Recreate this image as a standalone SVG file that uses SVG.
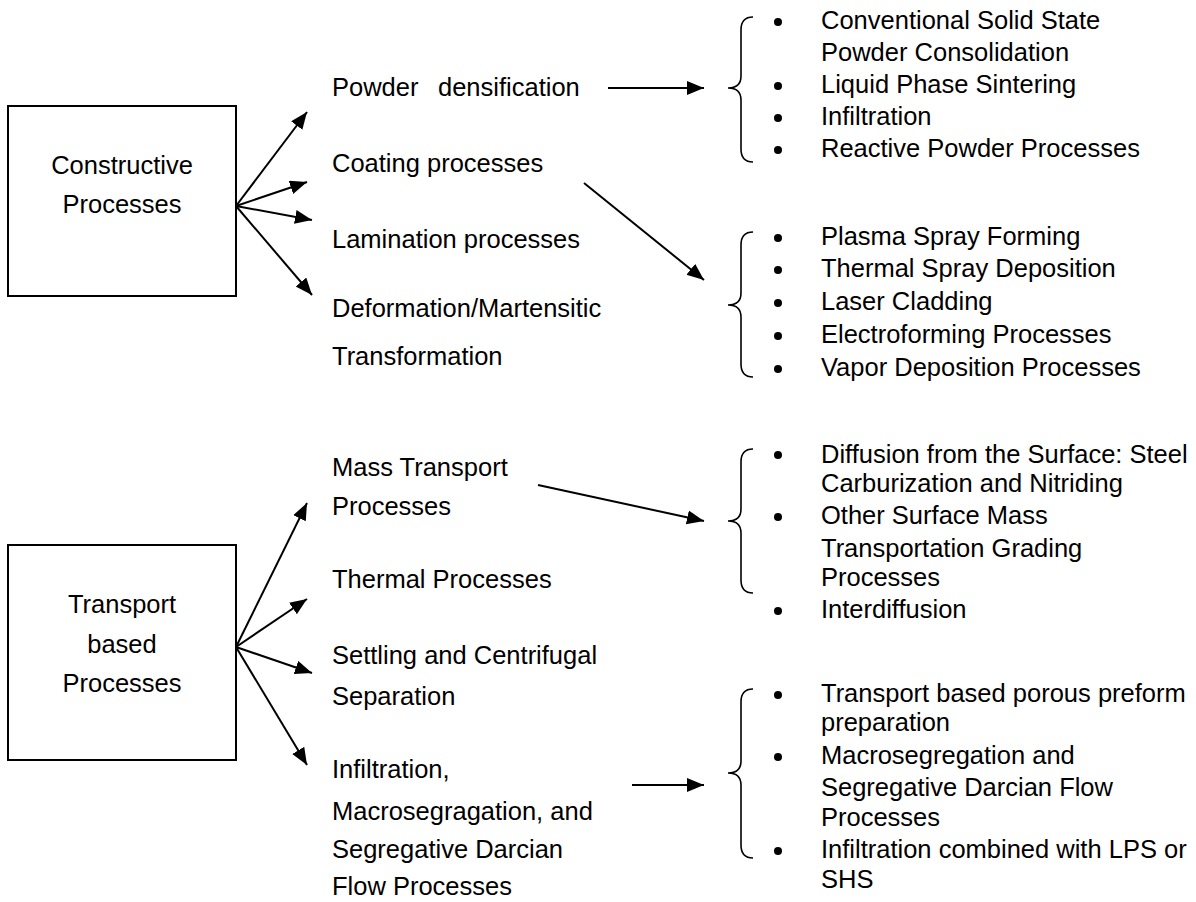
<svg xmlns="http://www.w3.org/2000/svg" width="1196" height="902" viewBox="0 0 1196 902">
<style>
text{font-family:"Liberation Sans",Arial,sans-serif;font-size:25.5px;fill:#000}
.box{fill:#fff;stroke:#000;stroke-width:2}
.ln{stroke:#000;stroke-width:2;fill:none;marker-end:url(#ah)}
.br{stroke:#000;stroke-width:1.6;fill:none}
.c{text-anchor:middle}
</style>
<defs>
<marker id="ah" markerUnits="userSpaceOnUse" markerWidth="18" markerHeight="15" refX="17" refY="7" orient="auto">
<path d="M0,0 L17,7 L0,14 z" fill="#000"/>
</marker>
</defs>
<rect width="1196" height="902" fill="#fff"/>

<g id="constructive">
<rect class="box" x="8" y="106" width="228" height="190"/>
<text class="c" x="122" y="174">Constructive</text>
<text class="c" x="122" y="213">Processes</text>
</g>

<g id="transport">
<rect class="box" x="8" y="545" width="228" height="215"/>
<text class="c" x="122" y="613">Transport</text>
<text class="c" x="122" y="653">based</text>
<text class="c" x="122" y="692">Processes</text>
</g>

<g id="powder-densification"><text x="332" y="96">Powder</text><text x="438" y="96">densification</text></g>
<g id="coating"><text x="332" y="172">Coating processes</text></g>
<g id="lamination"><text x="332" y="248">Lamination processes</text></g>
<g id="deformation"><text x="332" y="317">Deformation/Martensitic</text><text x="332" y="365">Transformation</text></g>

<g id="mass-transport"><text x="332" y="476">Mass Transport</text><text x="332" y="515">Processes</text></g>
<g id="thermal"><text x="332" y="588">Thermal Processes</text></g>
<g id="settling"><text x="332" y="664">Settling and Centrifugal</text><text x="332" y="705">Separation</text></g>
<g id="infiltration"><text x="332" y="778">Infiltration,</text><text x="332" y="820">Macrosegragation, and</text><text x="332" y="858">Segregative Darcian</text><text x="332" y="895">Flow Processes</text></g>

<g id="list-powder">
<path class="br" d="M753,17 C746,17 741,21 741,30 L741,76 C741,84 736,88 728,88 C736,88 741,92 741,100 L741,149 C741,158 746,162 753,162"/>
<circle cx="778" cy="22" r="4"/><circle cx="778" cy="86" r="4"/><circle cx="778" cy="118" r="4"/><circle cx="778" cy="150" r="4"/>
<text x="821" y="29">Conventional Solid State</text>
<text x="821" y="61">Powder Consolidation</text>
<text x="821" y="93">Liquid Phase Sintering</text>
<text x="821" y="125">Infiltration</text>
<text x="821" y="157">Reactive Powder Processes</text>
</g>

<g id="list-coating">
<path class="br" d="M753,232 C746,232 741,236 741,245 L741,293 C741,301 736,305 728,305 C736,305 741,309 741,317 L741,364 C741,373 746,377 753,377"/>
<circle cx="778" cy="238" r="4"/><circle cx="778" cy="270" r="4"/><circle cx="778" cy="303" r="4"/><circle cx="778" cy="336" r="4"/><circle cx="778" cy="369" r="4"/>
<text x="821" y="245">Plasma Spray Forming</text>
<text x="821" y="277">Thermal Spray Deposition</text>
<text x="821" y="310">Laser Cladding</text>
<text x="821" y="343">Electroforming Processes</text>
<text x="821" y="376">Vapor Deposition Processes</text>
</g>

<g id="list-mass">
<path class="br" d="M753,449 C746,449 741,453 741,462 L741,509 C741,517 736,521 728,521 C736,521 741,525 741,533 L741,580 C741,589 746,593 753,593"/>
<circle cx="778" cy="455" r="4"/><circle cx="778" cy="517" r="4"/><circle cx="778" cy="611" r="4"/>
<text x="821" y="463">Diffusion from the Surface: Steel</text>
<text x="821" y="492">Carburization and Nitriding</text>
<text x="821" y="524">Other Surface Mass</text>
<text x="821" y="557">Transportation Grading</text>
<text x="821" y="586">Processes</text>
<text x="821" y="618">Interdiffusion</text>
</g>

<g id="list-infiltration">
<path class="br" d="M753,689 C746,689 741,693 741,702 L741,761 C741,769 736,773 728,773 C736,773 741,777 741,785 L741,845 C741,854 746,858 753,858"/>
<circle cx="778" cy="695" r="4"/><circle cx="778" cy="757" r="4"/><circle cx="778" cy="851" r="4"/>
<text x="821" y="702">Transport based porous preform</text>
<text x="821" y="731">preparation</text>
<text x="821" y="764">Macrosegregation and</text>
<text x="821" y="796">Segregative Darcian Flow</text>
<text x="821" y="826">Processes</text>
<text x="821" y="858">Infiltration combined with LPS or</text>
<text x="821" y="888">SHS</text>
</g>

<g id="connectors">
<line class="ln" x1="236" y1="206" x2="307" y2="112"/>
<line class="ln" x1="236" y1="206" x2="307" y2="182"/>
<line class="ln" x1="236" y1="206" x2="312" y2="220"/>
<line class="ln" x1="236" y1="206" x2="312" y2="295"/>
<line class="ln" x1="236" y1="647" x2="307" y2="503"/>
<line class="ln" x1="236" y1="647" x2="307" y2="599"/>
<line class="ln" x1="236" y1="647" x2="312" y2="673"/>
<line class="ln" x1="236" y1="647" x2="307" y2="765"/>
<line class="ln" x1="608" y1="88" x2="704" y2="88"/>
<line class="ln" x1="584" y1="183" x2="704" y2="280"/>
<line class="ln" x1="538" y1="485" x2="704" y2="521"/>
<line class="ln" x1="632" y1="785" x2="704" y2="785"/>
</g>
</svg>
